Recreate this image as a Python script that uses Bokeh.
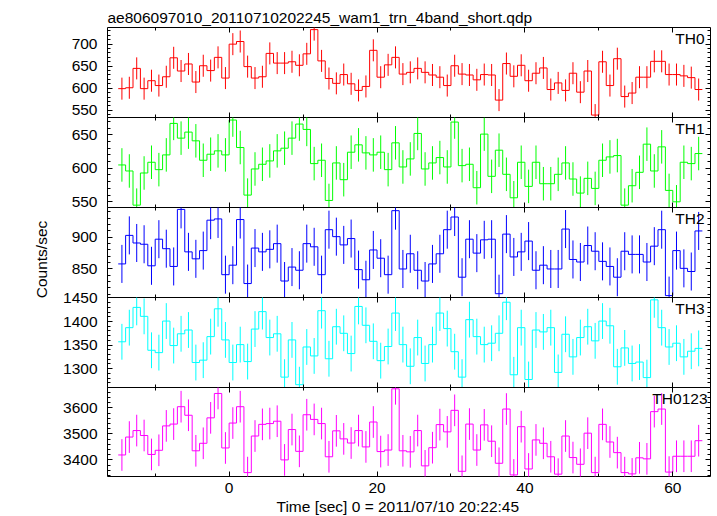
import math
import numpy as np
from bokeh.plotting import figure
from bokeh.layouts import column, row
from bokeh.models import Range1d, Label, LinearAxis, FixedTicker, CustomJSTickFormatter, ColumnDataSource, Title
from bokeh.embed import file_html
from bokeh.resources import INLINE

# ---------------- data ----------------
title_text = "ae806097010_20110710202245_wam1_trn_4band_short.qdp"
xlabel_text = "Time [sec] 0 = 2011/07/10 20:22:45"
ylabel_text = "Counts/sec"

bin_width = 1.0
time = np.arange(-14.5, 64.0, bin_width)   # bin centres (79 bins)

th0 = [599, 601, 645, 599, 617, 606, 626, 669, 639, 655, 614, 651, 640, 670, 623, 700, 706, 649, 623, 626,
       679, 657, 657, 660, 652, 678, 733, 662, 622, 611, 631, 610, 595, 604, 686, 625, 653, 670, 632, 636,
       645, 636, 630, 625, 606, 651, 632, 630, 619, 631, 630, 573, 656, 627, 652, 617, 634, 646, 597, 612,
       595, 634, 591, 639, 539, 660, 606, 667, 581, 589, 625, 625, 661, 661, 631, 631, 628, 624, 597]
th1 = [605, 596, 545, 593, 609, 598, 620, 667, 645, 654, 641, 612, 621, 626, 620, 672, 631, 560, 599, 606,
       611, 626, 630, 645, 666, 658, 607, 612, 552, 608, 583, 624, 635, 623, 620, 624, 598, 638, 602, 614,
       652, 599, 608, 616, 602, 669, 604, 606, 571, 651, 588, 627, 591, 556, 609, 573, 609, 577, 577, 591,
       608, 584, 563, 585, 570, 612, 617, 619, 545, 574, 594, 636, 596, 632, 567, 550, 609, 607, 622]
th2 = [858, 903, 891, 889, 855, 897, 882, 854, 944, 877, 866, 879, 927, 929, 841, 856, 928, 827, 883, 877,
       881, 890, 831, 853, 848, 890, 885, 841, 912, 901, 888, 898, 849, 833, 880, 867, 841, 942, 850, 874,
       848, 831, 858, 874, 912, 932, 837, 897, 875, 896, 897, 811, 905, 869, 877, 894, 848, 856, 850, 850,
       913, 865, 861, 887, 878, 862, 854, 837, 878, 873, 873, 861, 886, 912, 808, 879, 851, 846, 910]
th3 = [1357, 1387, 1430, 1411, 1339, 1334, 1401, 1349, 1374, 1382, 1313, 1318, 1368, 1427, 1361, 1313, 1351, 1315, 1384, 1421,
       1366, 1374, 1282, 1361, 1266, 1346, 1327, 1423, 1321, 1389, 1375, 1332, 1432, 1392, 1358, 1317, 1347, 1418, 1351, 1305,
       1366, 1311, 1351, 1418, 1385, 1336, 1282, 1404, 1368, 1351, 1354, 1375, 1441, 1287, 1387, 1277, 1382, 1378, 1387, 1292,
       1373, 1325, 1366, 1389, 1359, 1401, 1391, 1304, 1344, 1311, 1314, 1281, 1446, 1387, 1346, 1354, 1325, 1337, 1343]
th0123 = [3419, 3488, 3513, 3494, 3421, 3437, 3531, 3538, 3605, 3572, 3435, 3464, 3562, 3656, 3446, 3542, 3605, 3351, 3492, 3537,
          3540, 3549, 3400, 3517, 3433, 3574, 3556, 3540, 3412, 3512, 3481, 3465, 3513, 3450, 3546, 3432, 3438, 3674, 3435, 3431,
          3513, 3377, 3447, 3536, 3508, 3591, 3356, 3538, 3438, 3535, 3472, 3387, 3596, 3342, 3528, 3365, 3477, 3464, 3412, 3345,
          3492, 3409, 3383, 3503, 3351, 3537, 3469, 3428, 3351, 3346, 3408, 3404, 3586, 3596, 3353, 3414, 3414, 3414, 3474]

# typical 1-sigma error per channel
errors = {"TH0": 25, "TH1": 25, "TH2": 30, "TH3": 38, "TH0123": 61}

names = ["TH0", "TH1", "TH2", "TH3", "TH0123"]
series = [th0, th1, th2, th3, th0123]
colors = ["#ff0000", "#00ff00", "#0000ff", "#00ffff", "#ff00ff"]
y_ranges = [(533.5, 737.8), (541.5, 675.8), (805, 947), (1260, 1451), (3336, 3679)]
y_major = [[550, 600, 650, 700], [550, 600, 650], [850, 900], [1300, 1350, 1400, 1450], [3400, 3500, 3600]]
y_minor_step = [10, 10, 10, 10, 20]
x_major = [0, 20, 40, 60]
x_minor = [-10, 10, 30, 50]
x_range = (-16.45, 65.1)

FONT = "Liberation Sans"
FS = "15.5px"
OV = 12       # transparent overlap between stacked panels
STRIP = 52    # width of the strip holding the y-axis title
W, H = 717, 516


def style_axis(ax, labels):
    ax.axis_line_color = None
    ax.major_tick_in = 5
    ax.major_tick_out = 0
    ax.minor_tick_in = 3
    ax.minor_tick_out = 0
    ax.major_tick_line_color = "black"
    ax.minor_tick_line_color = "black"
    if labels:
        ax.major_label_text_font = FONT
        ax.major_label_text_font_size = FS
        ax.major_label_text_color = "black"
    else:
        ax.formatter = CustomJSTickFormatter(code="return ''")
        ax.major_label_text_color = None
        ax.major_label_standoff = 0


# strip on the left that carries the shared y-axis title
strip = figure(width=STRIP, height=H, x_range=Range1d(0, STRIP), y_range=Range1d(0, H),
               output_backend="svg", toolbar_location=None,
               x_axis_location=None, y_axis_location=None, min_border=0)
strip.grid.visible = False
strip.outline_line_color = None
strip.background_fill_color = None
strip.border_fill_color = None
strip.add_layout(Label(x=40.8, y=H - 259, angle=math.pi / 2, text=ylabel_text,
                       text_align="center", text_baseline="middle",
                       text_font=FONT, text_font_size=FS, text_color="black"))

figs = []
n = len(names)
for k in range(n):
    first = k == 0
    last = k == n - 1
    fh = 89 if last else 90
    lo, hi = y_ranges[k]
    p = figure(frame_width=603, frame_height=fh,
               x_range=Range1d(*x_range), y_range=Range1d(lo, hi),
               output_backend="svg", toolbar_location=None,
               x_axis_location=None, y_axis_location=None,
               min_border_left=107 - STRIP, min_border_right=7,
               min_border_top=27 if first else OV,
               min_border_bottom=40 if last else OV)
    p.margin = (0 if first else -OV, 0, 0 if last else -OV, 0)
    p.grid.visible = False
    p.outline_line_color = "black"
    p.outline_line_width = 1
    p.background_fill_color = None
    p.border_fill_color = None

    ymin = [float(v) for v in np.arange(y_major[k][0] - 5 * y_minor_step[k], hi + 1, y_minor_step[k])
            if v not in y_major[k]]

    left = LinearAxis(ticker=FixedTicker(ticks=y_major[k], minor_ticks=ymin))
    style_axis(left, True)
    left.major_label_standoff = 10
    p.add_layout(left, "left")
    right = LinearAxis(ticker=FixedTicker(ticks=y_major[k], minor_ticks=ymin))
    style_axis(right, False)
    p.add_layout(right, "right")
    top = LinearAxis(ticker=FixedTicker(ticks=x_major, minor_ticks=x_minor))
    style_axis(top, False)
    p.add_layout(top, "above")
    bottom = LinearAxis(ticker=FixedTicker(ticks=x_major, minor_ticks=x_minor))
    style_axis(bottom, last)
    if last:
        bottom.major_label_standoff = 6
    p.add_layout(bottom, "below")

    vals = np.array(series[k], dtype=float)
    err = errors[names[k]]
    edges = np.append(time - bin_width / 2, time[-1] + bin_width / 2)
    step_y = np.append(vals, vals[-1])
    p.step(x=edges, y=step_y, mode="after", line_color=colors[k], line_width=1)
    src = ColumnDataSource(dict(t=time, lo=vals - err, hi=vals + err))
    p.segment(x0="t", y0="lo", x1="t", y1="hi", source=src, line_color=colors[k], line_width=1)

    p.add_layout(Label(x=x_range[1], y=hi, x_offset=-3 if last else -6, y_offset=-2,
                       text=names[k], text_align="right", text_baseline="top",
                       text_font=FONT, text_font_size=FS, text_color="black"))
    if first:
        p.add_layout(Title(text=title_text, align="left", offset=0, standoff=3,
                           text_font=FONT, text_font_size=FS, text_font_style="normal",
                           text_color="black"), "above")
    if last:
        p.add_layout(Title(text=xlabel_text, align="left", offset=169, standoff=0,
                           text_font=FONT, text_font_size=FS, text_font_style="normal",
                           text_color="black"), "below")
    figs.append(p)

layout = row(strip, column(*figs, spacing=0), spacing=0)
open("out.html", "w").write(file_html(layout, INLINE))
